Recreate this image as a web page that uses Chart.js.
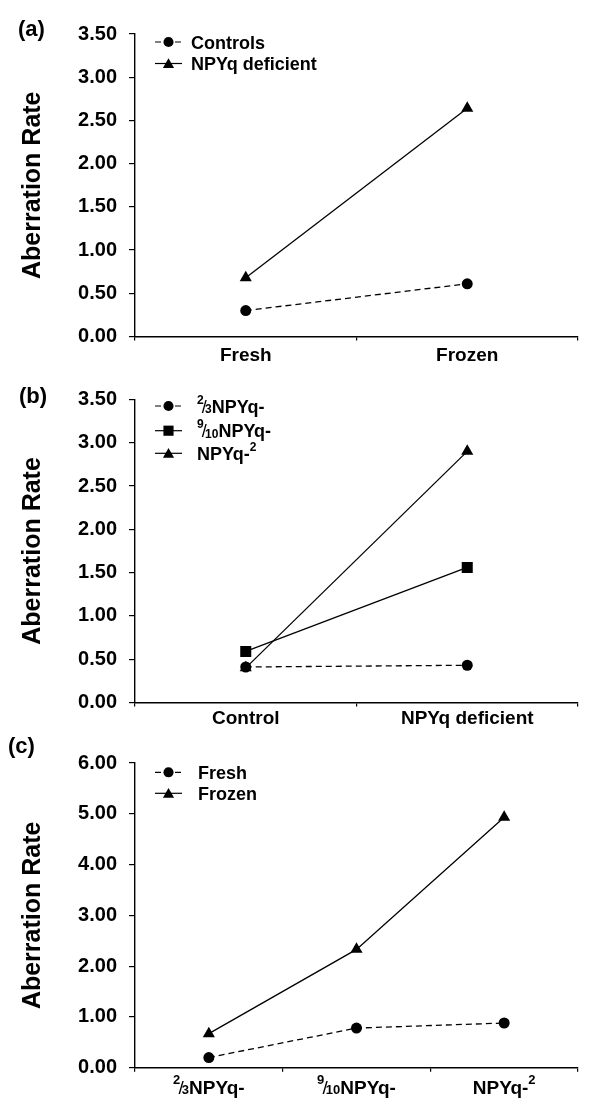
<!DOCTYPE html>
<html><head><meta charset="utf-8">
<script src="https://cdn.jsdelivr.net/npm/chart.js@4.4.1/dist/chart.umd.min.js"></script>
<style>
html,body{margin:0;padding:0;background:#fff;width:600px;height:1106px;overflow:hidden}
.p{position:absolute;left:0;width:600px}
</style></head><body>
<div class="p" style="top:0;height:372px"><canvas id="ca"></canvas></div>
<div class="p" style="top:372px;height:358px"><canvas id="cb"></canvas></div>
<div class="p" style="top:730px;height:376px"><canvas id="cc"></canvas></div>
<script>
// ---------- data ----------
const catsA = ['Fresh', 'Frozen'];
const controlsA = [0.30, 0.61];
const deficientA = [0.68, 2.64];
const yTicksA = [0, 0.5, 1, 1.5, 2, 2.5, 3, 3.5];

const catsB = ['Control', 'NPYq deficient'];
const twoThirdsB = [0.41, 0.43];
const nineTenthsB = [0.59, 1.56];
const npyq2B = [0.40, 2.90];
const yTicksB = [0, 0.5, 1, 1.5, 2, 2.5, 3, 3.5];

const catsC = ['^{2}~{/}_{3}NPYq-', '^{9}~{/}_{10}NPYq-', 'NPYq-^{2}'];
const freshC = [0.20, 0.78, 0.88];
const frozenC = [0.67, 2.33, 4.93];
const yTicksC = [0, 1, 2, 3, 4, 5, 6];

const FF = '"Liberation Sans", Arial, Helvetica, sans-serif';

// ---------- rich text (super/subscripts) ----------
function parseRich(s){
  const out=[]; const re=/([\^_~])\{([^}]*)\}/g; let last=0, m;
  while((m=re.exec(s))){
    if(m.index>last) out.push({t:'n', s:s.slice(last,m.index)});
    out.push({t:m[1], s:m[2]}); last=re.lastIndex;
  }
  if(last<s.length) out.push({t:'n', s:s.slice(last)});
  return out;
}
function segFont(t,size){
  if(t==='n') return 'bold '+size+'px '+FF;
  if(t==='^'||t==='_') return 'bold '+Math.round(size*0.68)+'px '+FF;
  return size+'px '+FF;
}
function segRaise(t,size){ return t==='^' ? size*0.5 : (t==='_' ? -size*0.04 : 0); }
function segKern(t,size){ return t==='~' ? -size*0.1 : 0; }
function drawRich(ctx,s,x,y,size,align){
  const segs=parseRich(s); let w=0;
  segs.forEach(g=>{ctx.font=segFont(g.t,size); g.w=ctx.measureText(g.s).width+2*segKern(g.t,size); w+=g.w;});
  let cx = align==='center' ? x-w/2 : x;
  ctx.textBaseline='alphabetic'; ctx.textAlign='left'; ctx.fillStyle='#000';
  segs.forEach(g=>{ctx.font=segFont(g.t,size); ctx.fillText(g.s, cx+segKern(g.t,size), y-segRaise(g.t,size)); cx+=g.w;});
}

// ---------- markers ----------
function drawMarker(ctx, style, r, x, y){
  ctx.save(); ctx.fillStyle='#000'; ctx.beginPath();
  if(style==='circle'){ ctx.arc(x,y,r,0,Math.PI*2); }
  else if(style==='triangle'){
    for(let k=0;k<3;k++){ const a=k*2*Math.PI/3; const px=x+Math.sin(a)*r, py=y-Math.cos(a)*r; if(k===0) ctx.moveTo(px,py); else ctx.lineTo(px,py);} ctx.closePath();
  } else { const s=Math.SQRT1_2*r; ctx.rect(x-s,y-s,2*s,2*s); }
  ctx.fill(); ctx.restore();
}

function makeChart(id, cfg){
  const deco = {
    id:'deco'+id,
    afterDraw(chart){
      const ctx=chart.ctx; ctx.save();
      // panel label
      ctx.fillStyle='#000'; ctx.font='bold 22px '+FF; ctx.textAlign='left'; ctx.textBaseline='middle';
      ctx.fillText(cfg.panel, cfg.panelX, cfg.panelY);
      // legend
      cfg.series.forEach((s,i)=>{
        const y=cfg.legY[i], x0=155, x1=182, xm=(x0+x1)/2;
        ctx.save(); ctx.strokeStyle='#000'; ctx.lineWidth=1.2; ctx.setLineDash(s.dash?[6,4]:[]);
        ctx.beginPath(); ctx.moveTo(x0,y); ctx.lineTo(x1,y); ctx.stroke(); ctx.restore();
        drawMarker(ctx, s.marker, s.r*0.92, xm, y + (s.marker==='triangle'?1.2:0));
        drawRich(ctx, s.label, cfg.legTextX, y+6.5, 18, 'left');
      });
      // rich x labels
      if(cfg.richX){
        const xs=chart.scales.x;
        cfg.labels.forEach((l,i)=>{ drawRich(ctx, l, xs.getPixelForValue(i), xs.top+26, 19, 'center'); });
      }
      ctx.restore();
    }
  };
  return new Chart(document.getElementById(id), {
    type:'line',
    data:{
      labels: cfg.labels,
      datasets: cfg.series.map(s=>({
        label:s.label, data:s.data, borderColor:'#000', backgroundColor:'#000', borderWidth:1.3,
        borderDash:s.dash?[6,4]:[], pointStyle:s.marker, pointRadius:s.r, pointHoverRadius:s.r,
        pointBackgroundColor:'#000', pointBorderColor:'#000', pointBorderWidth:0, tension:0, fill:false
      }))
    },
    options:{
      responsive:true, maintainAspectRatio:false, animation:false, events:[],
      layout:{padding:{top:cfg.padTop, right:22, left:0, bottom:0}},
      plugins:{legend:{display:false}, tooltip:{enabled:false}},
      scales:{
        x:{
          offset:true,
          grid:{offset:true, display:true, drawOnChartArea:false, drawTicks:true, tickLength:4, color:'#000', lineWidth:1.2},
          border:{display:true, color:'#000', width:1.4},
          ticks:{display:!cfg.richX, color:'#000', font:{family:FF, size:19, weight:'bold', lineHeight:1}, padding:cfg.xPad, maxRotation:0, autoSkip:false},
          afterFit:s=>{s.height=cfg.xH;}
        },
        y:{
          min:cfg.yTicks[0], max:cfg.yTicks[cfg.yTicks.length-1],
          afterBuildTicks:s=>{s.ticks=cfg.yTicks.map(v=>({value:v}));},
          ticks:{color:'#000', font:{family:FF, size:20, weight:'bold'}, padding:12, callback:v=>Number(v).toFixed(2)},
          grid:{display:true, drawOnChartArea:false, drawTicks:true, tickLength:6, color:'#000', lineWidth:1.2},
          border:{display:true, color:'#000', width:1.4},
          title:{display:true, text:'Aberration Rate', color:'#000', font:{family:FF, size:25, weight:'bold', lineHeight:1}, padding:{top:21, bottom:0}},
          afterFit:s=>{s.width=135;}
        }
      }
    },
    plugins:[deco]
  });
}

makeChart('ca', {
  panel:'(a)', panelX:18, panelY:30, labels:catsA, yTicks:yTicksA, padTop:34, xH:35.5, xPad:5.5,
  legY:[42, 63.5], legTextX:191,
  series:[
    {label:'Controls', data:controlsA, marker:'circle', r:5.5, dash:true},
    {label:'NPYq deficient', data:deficientA, marker:'triangle', r:7, dash:false}
  ]
});
makeChart('cb', {
  panel:'(b)', panelX:19, panelY:25, labels:catsB, yTicks:yTicksB, padTop:27.4, xH:27.5, xPad:2.5,
  legY:[34, 58.7, 81.3], legTextX:197,
  series:[
    {label:'^{2}~{/}_{3}NPYq-', data:twoThirdsB, marker:'circle', r:5.5, dash:true},
    {label:'^{9}~{/}_{10}NPYq-', data:nineTenthsB, marker:'rect', r:7.8, dash:false},
    {label:'NPYq-^{2}', data:npyq2B, marker:'triangle', r:7, dash:false}
  ]
});
makeChart('cc', {
  panel:'(c)', panelX:8, panelY:17, labels:catsC, yTicks:yTicksC, padTop:33, xH:38.3, xPad:5, richX:true,
  legY:[42.3, 63.3], legTextX:198,
  series:[
    {label:'Fresh', data:freshC, marker:'circle', r:5.5, dash:true},
    {label:'Frozen', data:frozenC, marker:'triangle', r:7, dash:false}
  ]
});
</script>
</body></html>
